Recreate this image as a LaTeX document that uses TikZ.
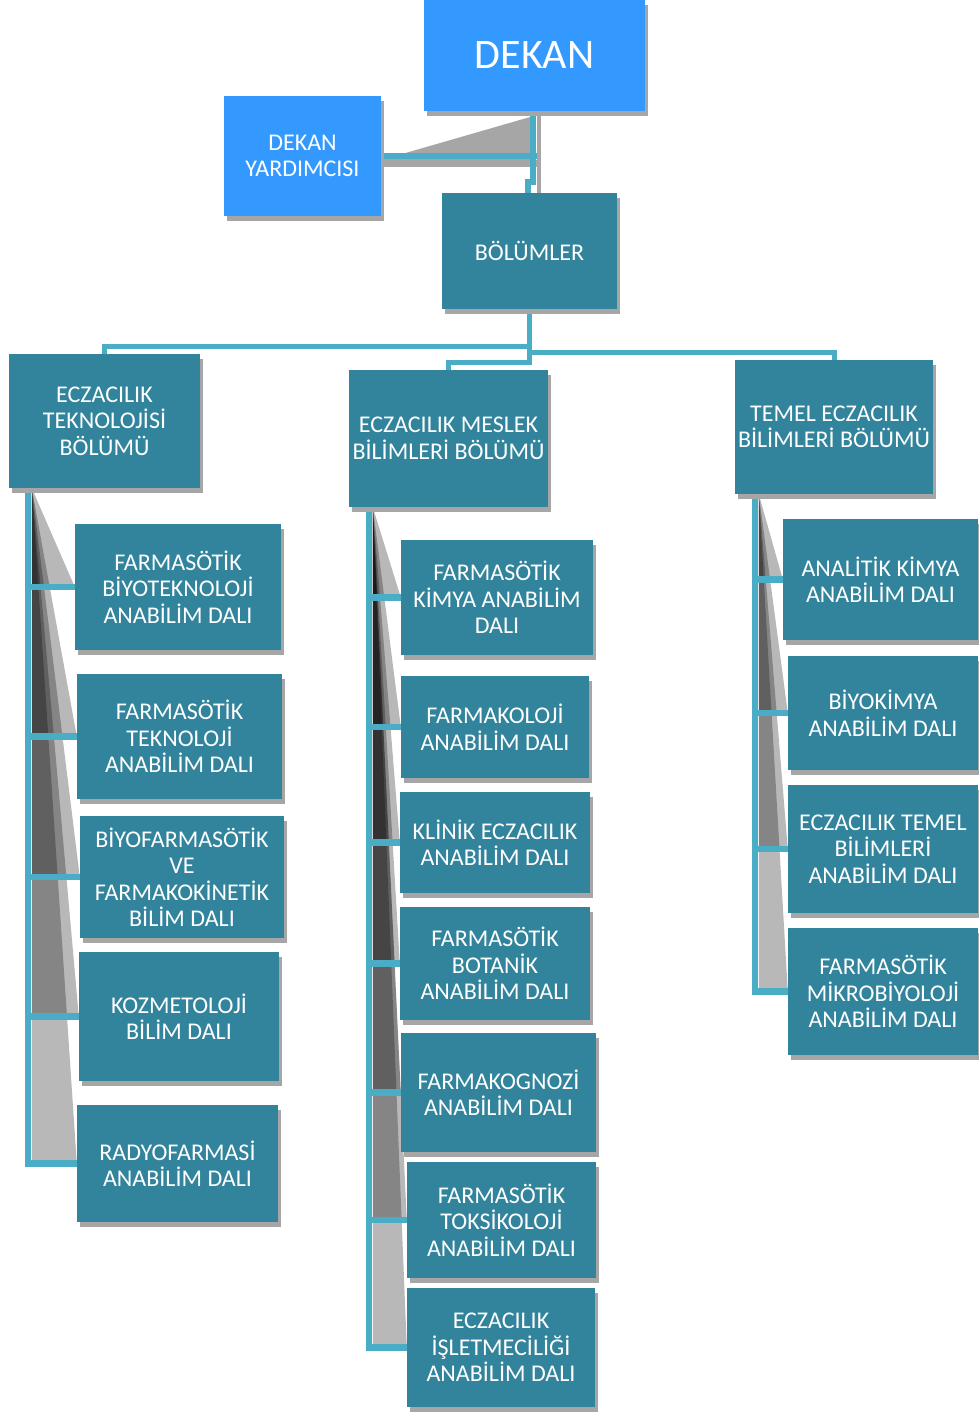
\documentclass[tikz,border=0pt]{standalone}
\usepackage{fontspec}
\setmainfont{Carlito}
\usetikzlibrary{calc,shadows}
\pgfdeclarelayer{background}
\pgfsetlayers{background,main}
\definecolor{dekanblue}{RGB}{51,153,255}
\definecolor{tealbox}{RGB}{49,132,155}
\definecolor{connblue}{RGB}{75,172,198}
\definecolor{shgray}{RGB}{166,166,166}
\tikzset{
  basebox/.style={rectangle, inner sep=0pt, text=white, align=center,
    font=\fontsize{24}{26.5}\selectfont,
    drop shadow={shadow xshift=3pt, shadow yshift=-5pt, fill=shgray, opacity=1}},
  bluebox/.style={basebox, fill=dekanblue},
  tbox/.style={basebox, fill=tealbox},
  conn/.style={draw=connblue, line width=6.5pt},
  bus/.style={draw=connblue, line width=5pt},
  wedge/.style={fill=black, fill opacity=0.28},
}
\begin{document}
\begin{tikzpicture}[x=1pt,y=-1pt]
\useasboundingbox (0,0) rectangle (978,1413);

% top level
\node[bluebox, minimum width=221pt, minimum height=111pt, font=\fontsize{42}{48}\selectfont] (dekan) at (534.5,55.5) {DEKAN};
\node[bluebox, minimum width=157pt, minimum height=120pt] (dy) at (302.5,156) {DEKAN\\YARDIMCISI};
\node[tbox, minimum width=175pt, minimum height=116pt] (bol) at (529.5,251) {BÖLÜMLER};

% departments
\node[tbox, minimum width=191pt, minimum height=134pt] (d1) at (104.5,421) {ECZACILIK\\TEKNOLOJİSİ\\BÖLÜMÜ};
\node[tbox, minimum width=199pt, minimum height=137pt] (d2) at (448.5,438.5) {ECZACILIK MESLEK\\BİLİMLERİ BÖLÜMÜ};
\node[tbox, minimum width=198pt, minimum height=134pt] (d3) at (834,427) {TEMEL ECZACILIK\\BİLİMLERİ BÖLÜMÜ};

% left column
\node[tbox, minimum width=206pt, minimum height=126pt] (l1) at (178,587) {FARMASÖTİK\\BİYOTEKNOLOJİ\\ANABİLİM DALI};
\node[tbox, minimum width=205pt, minimum height=125pt] (l2) at (179.5,736.5) {FARMASÖTİK\\TEKNOLOJİ\\ANABİLİM DALI};
\node[tbox, minimum width=204pt, minimum height=122pt] (l3) at (182,877) {BİYOFARMASÖTİK\\VE\\FARMAKOKİNETİK\\BİLİM DALI};
\node[tbox, minimum width=200pt, minimum height=129pt] (l4) at (179,1016.5) {KOZMETOLOJİ\\BİLİM DALI};
\node[tbox, minimum width=201pt, minimum height=117pt] (l5) at (177.5,1163.5) {RADYOFARMASİ\\ANABİLİM DALI};

% middle column
\node[tbox, minimum width=192pt, minimum height=115pt] (m1) at (497,597.5) {FARMASÖTİK\\KİMYA ANABİLİM\\DALI};
\node[tbox, minimum width=188pt, minimum height=102pt] (m2) at (495,727) {FARMAKOLOJİ\\ANABİLİM DALI};
\node[tbox, minimum width=190pt, minimum height=101pt] (m3) at (495,842.5) {KLİNİK ECZACILIK\\ANABİLİM DALI};
\node[tbox, minimum width=190pt, minimum height=113pt] (m4) at (495,963.5) {FARMASÖTİK\\BOTANİK\\ANABİLİM DALI};
\node[tbox, minimum width=195pt, minimum height=119pt] (m5) at (498.5,1092.5) {FARMAKOGNOZİ\\ANABİLİM DALI};
\node[tbox, minimum width=189pt, minimum height=116pt] (m6) at (501.5,1220) {FARMASÖTİK\\TOKSİKOLOJİ\\ANABİLİM DALI};
\node[tbox, minimum width=188pt, minimum height=119pt] (m7) at (501,1347.5) {ECZACILIK\\İŞLETMECİLİĞİ\\ANABİLİM DALI};

% right column
\node[tbox, minimum width=195pt, minimum height=121pt] (r1) at (880.5,579.5) {ANALİTİK KİMYA\\ANABİLİM DALI};
\node[tbox, minimum width=190pt, minimum height=114pt] (r2) at (883,713) {BİYOKİMYA\\ANABİLİM DALI};
\node[tbox, minimum width=190pt, minimum height=128pt] (r3) at (883,849) {ECZACILIK TEMEL\\BİLİMLERİ\\ANABİLİM DALI};
\node[tbox, minimum width=190pt, minimum height=127pt] (r4) at (883,991.5) {FARMASÖTİK\\MİKROBİYOLOJİ\\ANABİLİM DALI};

% trunk points
\coordinate (lt) at ($(d1.south west)+(19,0)$);
\coordinate (mt) at ($(d2.south west)+(20,0)$);
\coordinate (rt) at ($(d3.south west)+(20,0)$);
\coordinate (lw) at ($(d1.south west)+(23,0)$);
\coordinate (mw) at ($(d2.south west)+(24,0)$);
\coordinate (rw) at ($(d3.south west)+(24,0)$);

\begin{pgfonlayer}{background}
  % connector shadows (wedges)
  \fill[shgray] ($(dy.east)+(0,4)$) -- ($(dekan.south)+(-1.5,5)$) -- ($(dekan.south)+(-1.5,49)$) -- cycle;
  \fill[shgray] ($(dy.east)+(0,4)$) rectangle ($(dekan.south)+(6,56)$);
  \fill[shgray] ($(dekan.south)+(2,0)$) rectangle ($(dekan.south)+(6,88)$);
  \foreach \n in {l1,l2,l3,l4,l5}
    \fill[wedge] (lw) -- (lw |- \n.west) -- (\n.west) -- cycle;
  \foreach \n in {m1,m2,m3,m4,m5,m6,m7}
    \fill[wedge] (mw) -- (mw |- \n.west) -- (\n.west) -- cycle;
  \foreach \n in {r1,r2,r3,r4}
    \fill[wedge] (rw) -- (rw |- \n.west) -- (\n.west) -- cycle;

  % connectors
  \draw[conn] (dy.east) -- ($(dy.east -| dekan.south)+(2,0)$);
  \draw[conn] ($(dekan.south)+(-1.5,0)$) -- ++(0,71) -- ++(-5,0) -- ($(bol.north)+(-1.5,0)$);
  \draw[bus] (bol.south) |- ($(d1.north)+(0,-7)$) -- (d1.north);
  \draw[bus] (bol.south) |- ($(d3.north)+(0,-7)$) -- (d3.north);
  \draw[bus] (bol.south) |- ($(d2.north)+(0,-7)$) -- (d2.north);
  \foreach \n in {l1,l2,l3,l4,l5}
    \draw[conn] (lt) |- (\n.west);
  \foreach \n in {m1,m2,m3,m4,m5,m6,m7}
    \draw[conn] (mt) |- (\n.west);
  \foreach \n in {r1,r2,r3,r4}
    \draw[conn] (rt) |- (\n.west);
\end{pgfonlayer}
\end{tikzpicture}
\end{document}
